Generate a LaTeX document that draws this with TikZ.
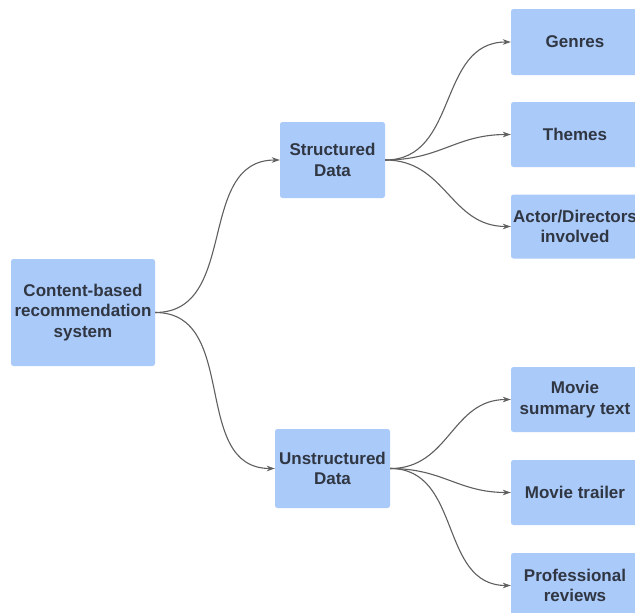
\documentclass[tikz,border=0pt]{standalone}
\usepackage{fontspec}
\setmainfont{Liberation Sans}
\usetikzlibrary{arrows.meta}
\definecolor{boxfill}{RGB}{170,202,250}
\definecolor{boxtext}{RGB}{48,54,66}
\definecolor{linkgray}{RGB}{95,95,95}
\tikzset{
  box/.style={rectangle, rounded corners=2.5pt, fill=boxfill, draw=none,
    text=boxtext, align=center, inner sep=0pt,
    font=\fontsize{17}{20.5}\selectfont\bfseries},
  link/.style={draw=linkgray, line width=1.1pt,
    -{Stealth[length=8pt,width=5.5pt]}, out=0, in=180, looseness=1.1}
}
\begin{document}
\begin{tikzpicture}[x=1pt,y=-1pt]
  \useasboundingbox (0,0) rectangle (635,613);
  \clip (0,0) rectangle (635,613);
  \fill[white] (0,0) rectangle (635,613);

  % root and the two data categories
  \node[box, minimum width=144pt, minimum height=107pt] (root) at (83,312.5)
    {Content-based\\recommendation\\system};
  \node[box, minimum width=105pt, minimum height=76pt] (sd) at (332.5,160)
    {Structured\\Data};
  \node[box, minimum width=115pt, minimum height=79pt] (ud) at (332.5,468.5)
    {Unstructured\\Data};

  % structured leaves
  \node[box, minimum width=128pt, minimum height=66pt] (genres) at (575,42) {Genres};
  \node[box, minimum width=128pt, minimum height=65pt] (themes) at (575,134.5) {Themes};
  \node[box, minimum width=128pt, minimum height=64pt] (actors) at (575,226.5)
    {Actor/Directors\\involved};

  % unstructured leaves
  \node[box, minimum width=128pt, minimum height=65pt] (summary) at (575,399.5)
    {Movie\\summary text};
  \node[box, minimum width=128pt, minimum height=65pt] (trailer) at (575,492.5)
    {Movie trailer};
  \node[box, minimum width=128pt, minimum height=65pt] (reviews) at (575,585.5)
    {Professional\\reviews};

  % connectors
  \draw[link] (root.east) to (sd.west);
  \draw[link] (root.east) to (ud.west);
  \draw[link] (sd.east) to (genres.west);
  \draw[link] (sd.east) to (themes.west);
  \draw[link] (sd.east) to (actors.west);
  \draw[link] (ud.east) to (summary.west);
  \draw[link] (ud.east) to (trailer.west);
  \draw[link] (ud.east) to (reviews.west);
\end{tikzpicture}
\end{document}
